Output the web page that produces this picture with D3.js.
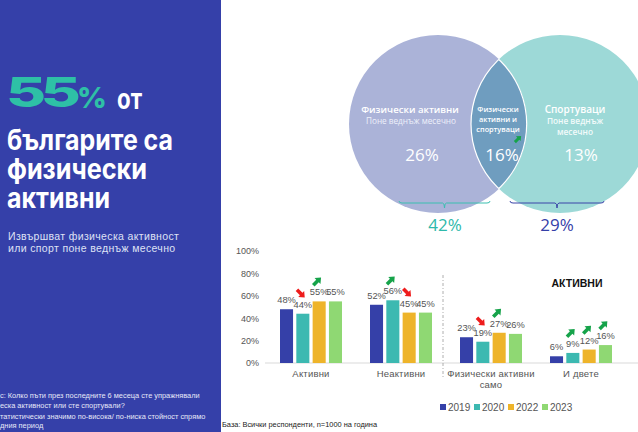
<!DOCTYPE html>
<html><head><meta charset="utf-8">
<script src="https://cdn.jsdelivr.net/npm/d3@7/dist/d3.min.js"></script>
<style>
html,body{margin:0;padding:0;background:#fff;}
svg{display:block;}
</style></head>
<body>
<svg id="c" width="638" height="432"></svg>
<script>
// ---------- DATA ----------
const categories = ["Активни", "Неактивни", "Физически активни само", "И двете"];
const categoryLines = [["Активни"], ["Неактивни"], ["Физически активни", "само"], ["И двете"]];
const years = ["2019", "2020", "2022", "2023"];
const v2019 = [48, 52, 23, 6];
const v2020 = [44, 56, 19, 9];
const v2022 = [55, 45, 27, 12];
const v2023 = [55, 45, 26, 16];
// significance vs previous wave: 1 = higher, -1 = lower, 0 = none
const s2019 = [0, 0, 0, 0];
const s2020 = [-1, 1, -1, 1];
const s2022 = [1, -1, 1, 1];
const s2023 = [0, 0, 0, 1];
const yTicks = [0, 20, 40, 60, 80, 100];
const vennOnlyPhys = 26, vennBoth = 16, vennOnlySport = 13;
const totalPhys = 42, totalSport = 29;
const headline = 55;

const series = [v2019, v2020, v2022, v2023];
const sigs = [s2019, s2020, s2022, s2023];
const colors = ["#3540a8", "#3cb9b1", "#eeb42a", "#8fd873"];

const svg = d3.select("#c");
const FONT = "'Liberation Sans', Arial, sans-serif";
const HFONT = "Inter, 'DejaVu Sans', sans-serif";
const VFONT = "'Open Sans', sans-serif";

// ---------- LEFT PANEL ----------
svg.append("rect").attr("x", 0).attr("y", 0).attr("width", 221).attr("height", 432).attr("fill", "#3540a9");
svg.append("text").attr("transform", "translate(6,107) scale(1.5,1)").attr("font-family", HFONT).attr("font-weight", 800)
  .attr("fill", "#2ec0a6").attr("font-size", 41).attr("letter-spacing", -3.5)
  .text(String(headline));
svg.append("text").attr("x", 77).attr("y", 108).attr("font-family", HFONT).attr("font-weight", 800)
  .attr("fill", "#2ec0a6").attr("font-size", 29).text("%");
svg.append("text").attr("x", 117).attr("y", 109).attr("font-family", HFONT).attr("font-weight", 700)
  .attr("fill", "#fff").attr("font-size", 28).attr("textLength", 25).attr("lengthAdjust", "spacingAndGlyphs")
  .text("от");
[["българите са", 150, 166], ["физически", 179, 140], ["активни", 208, 103]].forEach(([t, y, w]) => {
  svg.append("text").attr("x", 7).attr("y", y).attr("font-family", HFONT).attr("font-weight", 700)
    .attr("font-size", 28).attr("fill", "#fff").attr("textLength", w).attr("lengthAdjust", "spacingAndGlyphs").text(t);
});
[["Извършват физическа активност", 240], ["или спорт поне веднъж месечно", 252]].forEach(([t, y]) => {
  svg.append("text").attr("x", 8).attr("y", y).attr("font-family", FONT).attr("font-size", 10.5)
    .attr("letter-spacing", 0.35).attr("fill", "#dfe2f5").text(t);
});
[["с: Колко пъти през последните 6 месеца сте упражнявали", 398],
 ["еска активност или сте спортували?", 408],
 ["татистически значимо по-висока/ по-ниска стойност спрямо", 419],
 ["дния период", 428]].forEach(([t, y]) => {
  svg.append("text").attr("x", 0).attr("y", y).attr("font-family", FONT).attr("font-size", 7.4)
    .attr("fill", "#e6e8f8").text(t);
});
svg.append("text").attr("x", 222).attr("y", 427).attr("font-family", FONT).attr("font-size", 7.4)
  .attr("fill", "#222").text("База: Всички респонденти, n=1000 на година");

// ---------- ARROW ----------
function arrow(x, y, up, s = 1) {
  const pts = [[-5.5, -1.8], [0.5, -1.8], [0.5, -4.2], [5.5, 0], [0.5, 4.2], [0.5, 1.8], [-5.5, 1.8]];
  svg.append("path")
    .attr("d", d3.line()(pts) + "Z")
    .attr("fill", up ? "#16a34a" : "#ee1c1c")
    .attr("transform", `translate(${x},${y}) rotate(${up ? -45 : 45}) scale(${s})`);
}

// ---------- VENN ----------
const L = {x: 438, y: 124, r: 89}, R = {x: 560, y: 124, r: 89};
svg.append("circle").attr("cx", L.x).attr("cy", L.y).attr("r", L.r).attr("fill", "#abb3d8");
svg.append("circle").attr("cx", R.x).attr("cy", R.y).attr("r", R.r).attr("fill", "#9dd9d7");
const defs = svg.append("defs");
defs.append("clipPath").attr("id", "lc").append("circle").attr("cx", L.x).attr("cy", L.y).attr("r", L.r);
svg.append("circle").attr("cx", R.x).attr("cy", R.y).attr("r", R.r).attr("fill", "#6f9dbf")
  .attr("stroke", "#fff").attr("stroke-width", 1.2).attr("clip-path", "url(#lc)");
defs.append("clipPath").attr("id", "rc").append("circle").attr("cx", R.x).attr("cy", R.y).attr("r", R.r);
svg.append("circle").attr("cx", L.x).attr("cy", L.y).attr("r", L.r - 0.3).attr("fill", "none")
  .attr("stroke", "#fff").attr("stroke-width", 1.2).attr("clip-path", "url(#rc)");

function vt(x, y, t, size, weight, fill) {
  svg.append("text").attr("x", x).attr("y", y).attr("text-anchor", "middle").attr("font-family", VFONT)
    .attr("font-size", size).attr("font-weight", weight).attr("fill", fill).text(t);
}
vt(410, 113, "Физически активни", 9.6, 600, "#fff");
vt(411, 124, "Поне веднъж месечно", 8.2, 400, "#eef0fa");
vt(422, 161, vennOnlyPhys + "%", 17, 400, "#fff");
vt(498, 112, "Физически", 7.3, 600, "#fff");
vt(498, 122, "активни и", 7.3, 600, "#fff");
vt(498, 132, "спортуваци", 7.3, 600, "#fff");
vt(502, 161, vennBoth + "%", 17, 400, "#fff");
arrow(518, 139, true, 0.8);
vt(575, 113, "Спортуваци", 10, 600, "#fff");
vt(575, 124, "Поне веднъж", 8.3, 600, "#f2fbfb");
vt(575, 135, "месечно", 8.3, 600, "#f2fbfb");
vt(581, 161, vennOnlySport + "%", 17, 400, "#fff");

function bracket(x1, x2, y, col) {
  const m = (x1 + x2) / 2;
  svg.append("path").attr("d", `M${x1},${y - 2}Q${x1},${y} ${x1 + 3},${y}L${m - 2},${y}Q${m},${y} ${m},${y + 5}Q${m},${y} ${m + 2},${y}L${x2 - 3},${y}Q${x2},${y} ${x2},${y - 2}`)
    .attr("fill", "none").attr("stroke", col).attr("stroke-width", 1);
}
bracket(399, 490, 203, "#3bbfb0");
bracket(510, 604, 203, "#3a45a8");
vt(445, 231, totalPhys + "%", 17, 400, "#2fb9aa");
vt(557, 231, totalSport + "%", 17, 400, "#3540a8");

// ---------- BAR CHART ----------
const y = d3.scaleLinear().domain([0, 100]).range([363, 251]);
const x0 = d3.scaleBand().domain(categories).range([266, 626]);
const x1 = d3.scaleBand().domain(years).range([14, 76]).paddingInner(0.2);

const yAxis = svg.append("g").attr("transform", "translate(262,0)")
  .call(d3.axisLeft(y).tickValues(yTicks).tickFormat(d => d + "%").tickSize(0).tickPadding(3));
yAxis.select(".domain").remove();
yAxis.selectAll("text").attr("font-family", FONT).attr("font-size", 9).attr("fill", "#555");

svg.append("line").attr("x1", 265).attr("x2", 638).attr("y1", y(0)).attr("y2", y(0))
  .attr("stroke", "#d9d9d9").attr("stroke-width", 1);

svg.append("line").attr("x1", 443).attr("x2", 443).attr("y1", 275).attr("y2", 378)
  .attr("stroke", "#9a9a9a").attr("stroke-width", 0.8).attr("stroke-dasharray", "3,2,1,2");

svg.append("text").attr("x", 577).attr("y", 287).attr("text-anchor", "middle").attr("font-family", FONT)
  .attr("font-weight", 700).attr("font-size", 10.5).attr("fill", "#111").text("АКТИВНИ");

const groups = svg.append("g").selectAll("g").data(categories).join("g")
  .attr("transform", d => `translate(${x0(d)},0)`);
years.forEach((yr, j) => {
  groups.append("rect")
    .attr("x", x1(yr)).attr("width", x1.bandwidth())
    .attr("y", (d, i) => y(series[j][i])).attr("height", (d, i) => y(0) - y(series[j][i]))
    .attr("fill", colors[j]);
  groups.append("text")
    .attr("x", x1(yr) + x1.bandwidth() / 2).attr("y", (d, i) => y(series[j][i]) - 6)
    .attr("text-anchor", "middle").attr("font-family", FONT).attr("font-size", 9.3).attr("fill", "#555")
    .text((d, i) => series[j][i] + "%");
});
categories.forEach((c, i) => {
  years.forEach((yr, j) => {
    const s = sigs[j][i];
    if (s !== 0) {
      const cx = x0(c) + x1(yr) + x1.bandwidth() / 2 - 2;
      arrow(cx, y(series[j][i]) - 6 - 14, s > 0);
    }
  });
});

categories.forEach((c, i) => {
  const t = svg.append("text").attr("text-anchor", "middle").attr("font-family", FONT)
    .attr("font-size", 9.5).attr("fill", "#555").attr("letter-spacing", 0.2);
  categoryLines[i].forEach((ln, k) => {
    t.append("tspan").attr("x", x0(c) + x0.bandwidth() / 2).attr("y", 377 + k * 11).text(ln);
  });
});

// legend
const lg = svg.append("g");
years.forEach((yr, j) => {
  const lx = 440 + j * 34;
  lg.append("rect").attr("x", lx).attr("y", 404).attr("width", 6).attr("height", 6).attr("fill", colors[j]);
  lg.append("text").attr("x", lx + 8).attr("y", 411).attr("font-family", FONT).attr("font-size", 10)
    .attr("fill", "#555").text(yr);
});
</script>
</body></html>
